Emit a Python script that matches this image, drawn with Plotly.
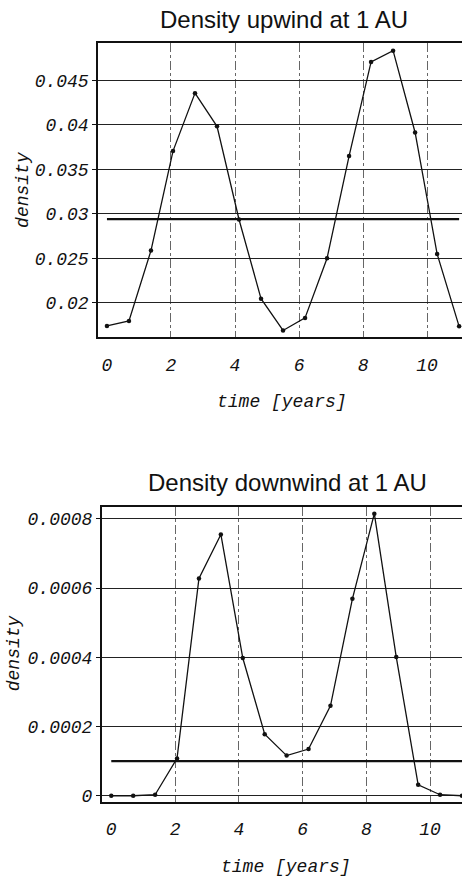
import plotly.graph_objects as go

# ---- data ----
time_years = [i * 11 / 16 for i in range(17)]
density_upwind = [0.01738, 0.01794, 0.02586, 0.03706, 0.04358, 0.03985, 0.02936, 0.02045,
                  0.01687, 0.01828, 0.02500, 0.03650, 0.04709, 0.04836, 0.03915, 0.02548, 0.01733]
density_downwind = [0.0, 0.0, 0.000003, 0.000108, 0.000628, 0.000755, 0.000398, 0.000178,
                    0.000116, 0.000135, 0.000260, 0.000569, 0.000815, 0.000401, 0.0000316, 0.000003, 0.0]
upwind_level = 0.0294
downwind_level = 0.0001

x_ticks = [0, 2, 4, 6, 8, 10]
x_grid = [2, 4, 6, 8, 10]
up_yticks = [0.02, 0.025, 0.03, 0.035, 0.04, 0.045]
up_yticktext = ["0.02", "0.025", "0.03", "0.035", "0.04", "0.045"]
down_yticks = [0, 0.0002, 0.0004, 0.0006, 0.0008]
down_yticktext = ["0", "0.0002", "0.0004", "0.0006", "0.0008"]

title_up = "Density upwind at 1 AU"
title_down = "Density downwind at 1 AU"
xlabel = "time [years]"
ylabel = "density"

W, H = 462, 882
mono = dict(family="Liberation Mono, Courier New, monospace", size=18, color="#111", style="italic")
sans = dict(family="Liberation Sans, Arial, sans-serif", size=24, color="#111")

fig = go.Figure()

for xa, ya, vals, level in [("x", "y", density_upwind, upwind_level),
                            ("x2", "y2", density_downwind, downwind_level)]:
    fig.add_trace(go.Scatter(x=[time_years[0], time_years[-1]], y=[level, level], mode="lines",
                             line=dict(color="#111", width=2.2), xaxis=xa, yaxis=ya,
                             showlegend=False, hoverinfo="skip"))
    fig.add_trace(go.Scatter(x=time_years, y=vals, mode="lines+markers",
                             line=dict(color="#111", width=1.3),
                             marker=dict(color="#111", size=4.5),
                             xaxis=xa, yaxis=ya, showlegend=False))

xcommon = dict(tickvals=x_ticks, ticktext=[str(v) for v in x_ticks], tickfont=mono,
               showgrid=False,
               minor=dict(tickvals=x_grid, showgrid=True, gridcolor="#666", griddash="dashdot",
                          gridwidth=1, ticks=""),
               showline=True, linecolor="#111", linewidth=1.5, mirror=True,
               ticks="", zeroline=False, ticklabelstandoff=10)
ycommon = dict(tickfont=mono, showgrid=True, gridcolor="#222", gridwidth=1.2,
               showline=True, linecolor="#111", linewidth=1.5,
               ticks="outside", ticklen=4, tickcolor="#111", zeroline=False)

fig.update_layout(
    width=W, height=H, margin=dict(l=0, r=0, t=0, b=0),
    paper_bgcolor="white", plot_bgcolor="white",
    xaxis=dict(domain=[98 / W, 1], range=[-0.28, 11.09], anchor="y", **xcommon),
    yaxis=dict(domain=[1 - 339.3 / H, 1 - 43 / H], range=[0.01609, 0.04925], anchor="x",
               tickvals=up_yticks, ticktext=up_yticktext, **ycommon),
    xaxis2=dict(domain=[101.7 / W, 1], range=[-0.3, 11.0], anchor="y2", **xcommon),
    yaxis2=dict(domain=[1 - 806.7 / H, 1 - 510 / H], range=[-0.0000184, 0.000834], anchor="x2",
                tickvals=down_yticks, ticktext=down_yticktext, **ycommon),
)

ann = [
    dict(text=title_up, x=283.5 / W, y=1 - 20 / H, font=sans),
    dict(text=title_down, x=287 / W, y=1 - 485 / H, font=sans),
    dict(text=xlabel, x=282 / W, y=1 - 404 / H, font=mono),
    dict(text=xlabel, x=286 / W, y=1 - 871.7 / H, font=mono),
    dict(text=ylabel, x=23 / W, y=1 - 191 / H, font=mono, textangle=-90),
    dict(text=ylabel, x=14 / W, y=1 - 657 / H, font=mono, textangle=-90),
]
for a in ann:
    fig.add_annotation(xref="paper", yref="paper", xanchor="center", yanchor="middle",
                       showarrow=False, **a)

fig.write_html("out.html")
